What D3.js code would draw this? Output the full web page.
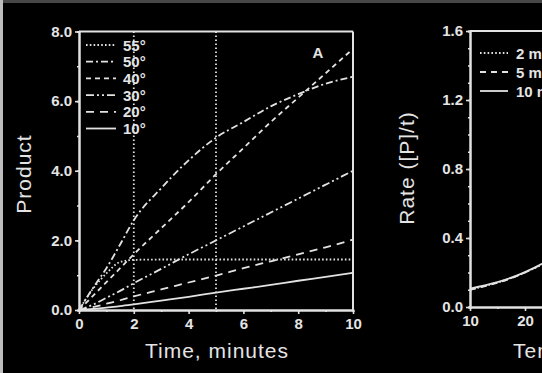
<!DOCTYPE html>
<html>
<head>
<meta charset="utf-8">
<script src="https://cdn.jsdelivr.net/npm/d3@7"></script>
<style>
  html, body { margin: 0; padding: 0; background: #000; }
  svg { display: block; }
  text { font-family: "Liberation Sans", Arial, sans-serif; fill: #e4e4e4; }
</style>
</head>
<body>
<div id="chart"></div>
<script>
// product vs time, one array per temperature
const times = [0, 0.5, 1, 1.5, 2, 3, 4, 5, 6, 7, 8, 9, 10];
const prod55 = [0, 0.6, 1.05, 1.38, 1.44, 1.45, 1.45, 1.45, 1.45, 1.45, 1.45, 1.45, 1.45];
const prod50 = [0, 0.62, 1.2, 1.88, 2.58, 3.5, 4.3, 4.95, 5.4, 5.85, 6.2, 6.5, 6.7];
const prod40 = [0, 0.4, 0.8, 1.2, 1.6, 2.35, 3.1, 3.9, 4.65, 5.4, 6.1, 6.8, 7.5];
const prod30 = [0, 0.15, 0.35, 0.55, 0.77, 1.18, 1.6, 2.0, 2.4, 2.8, 3.2, 3.6, 4.0];
const prod20 = [0, 0.08, 0.18, 0.28, 0.39, 0.59, 0.79, 0.99, 1.2, 1.4, 1.6, 1.8, 2.02];
const prod10 = [0, 0.03, 0.07, 0.11, 0.16, 0.27, 0.38, 0.5, 0.61, 0.72, 0.84, 0.95, 1.07];
const tempLabels = ["55°", "50°", "40°", "30°", "20°", "10°"];

// rate vs temperature
const temps = [10, 20, 30, 40, 50, 55];
const rate2 = [0.1, 0.2, 0.39, 0.8, 1.3, 0.72];
const rate5 = [0.1, 0.2, 0.4, 0.78, 0.99, 0.29];
const rate10 = [0.107, 0.202, 0.4, 0.75, 0.67, 0.145];
const rateLabels = ["2 min", "5 min", "10 min"];

const timeTicks = [0, 2, 4, 6, 8, 10];
const productTicks = [0, 2, 4, 6, 8];
const tempTicks = [10, 20, 30, 40, 50, 60];
const rateTicks = [0, 0.4, 0.8, 1.2, 1.6];
const markerTimes = [2, 5];

const W = 542, H = 373;
const ink = "#e2e2e2";

const svg = d3.select("#chart").append("svg")
	.attr("width", W)
	.attr("height", H);

/* scan border of the original figure */
svg.append("rect").attr("width", W).attr("height", H).attr("fill", "#000");
svg.append("rect").attr("width", W).attr("height", 3).attr("fill", "#474747");
svg.append("rect").attr("width", 3).attr("height", H).attr("fill", "#bdbdbd");

const x = d3.scaleLinear().domain([0, 10]).range([79, 353]);
const y = d3.scaleLinear().domain([0, 8]).range([310, 31.5]);
const xr = d3.scaleLinear().domain([10, 60]).range([470, 745]);
const yr = d3.scaleLinear().domain([0, 1.6]).range([307, 31]);

function styleAxis(g) {
	g.select(".domain").attr("stroke", ink).attr("stroke-width", 2);
	g.selectAll(".tick line").attr("stroke", ink).attr("stroke-width", 1.6);
	g.selectAll(".tick text")
		.attr("fill", ink)
		.style("font-size", "15px")
		.style("font-weight", "bold");
}

function drawAxes(xs, ys, xTicks, yTicks, xMinor, yMinor, xFmt, yFmt) {
	svg.append("g").attr("transform", `translate(0,${ys.range()[0]})`)
		.call(d3.axisBottom(xs).tickValues(xMinor).tickSize(2).tickFormat(""))
		.call(styleAxis);
	svg.append("g").attr("transform", `translate(${xs.range()[0]},0)`)
		.call(d3.axisLeft(ys).tickValues(yMinor).tickSize(2).tickFormat(""))
		.call(styleAxis);
	svg.append("g").attr("transform", `translate(0,${ys.range()[0]})`)
		.call(d3.axisBottom(xs).tickValues(xTicks).tickSize(4).tickSizeOuter(0).tickPadding(4).tickFormat(xFmt))
		.call(styleAxis);
	svg.append("g").attr("transform", `translate(${xs.range()[0]},0)`)
		.call(d3.axisLeft(ys).tickValues(yTicks).tickSize(4).tickSizeOuter(0).tickPadding(3).tickFormat(yFmt))
		.call(styleAxis);
	/* frame: top and right edges */
	const top = ys.range()[1];
	svg.append("line")
		.attr("x1", xs.range()[0]).attr("x2", xs.range()[1])
		.attr("y1", top).attr("y2", top)
		.attr("stroke", ink).attr("stroke-width", 2);
	svg.append("line")
		.attr("x1", xs.range()[1]).attr("x2", xs.range()[1])
		.attr("y1", top).attr("y2", ys.range()[0])
		.attr("stroke", ink).attr("stroke-width", 2);
}

/* ---------- panel A: product vs time ---------- */
drawAxes(x, y, timeTicks, productTicks, d3.range(0, 11, 1), d3.range(0, 9, 1),
	d3.format("d"), d3.format(".1f"));

// dotted markers at 2 and 5 minutes
svg.selectAll(".marker")
	.data(markerTimes)
	.enter().append("line")
		.attr("x1", d => x(d)).attr("x2", d => x(d))
		.attr("y1", y(8)).attr("y2", y(0))
		.attr("stroke", ink).attr("stroke-width", 1.8)
		.attr("stroke-dasharray", "1.5,2.5");

const prodSeries = [prod55, prod50, prod40, prod30, prod20, prod10];
const dashes = ["1.6,2.2", "7,3,2,3", "5,4", "8,3,2,3,2,3", "8,6", null];

const line = d3.line()
	.x((d, i) => x(times[i]))
	.y(d => y(d))
	.curve(d3.curveMonotoneX);

svg.selectAll(".prod")
	.data(prodSeries)
	.enter().append("path")
		.attr("d", line)
		.attr("fill", "none")
		.attr("stroke", ink)
		.attr("stroke-width", 1.8)
		.attr("stroke-dasharray", (d, i) => dashes[i]);

// legend
const legA = svg.append("g");
tempLabels.forEach((lab, i) => {
	const ly = 45 + i * 16.7;
	legA.append("line")
		.attr("x1", 86).attr("x2", 116)
		.attr("y1", ly).attr("y2", ly)
		.attr("stroke", ink).attr("stroke-width", 1.8)
		.attr("stroke-dasharray", dashes[i]);
	legA.append("text")
		.attr("x", 123).attr("y", ly + 5.5)
		.style("font-size", "15px").style("font-weight", "bold")
		.text(lab);
});

svg.append("text")
	.attr("x", 318).attr("y", 58)
	.attr("text-anchor", "middle")
	.style("font-size", "15px").style("font-weight", "bold")
	.text("A");

svg.append("text")
	.attr("x", 217).attr("y", 358)
	.attr("text-anchor", "middle")
	.style("font-size", "21px")
	.style("letter-spacing", "1px")
	.text("Time, minutes");

svg.append("text")
	.attr("transform", "translate(31,174) rotate(-90)")
	.attr("text-anchor", "middle")
	.style("font-size", "21px")
	.style("letter-spacing", "1px")
	.text("Product");

/* ---------- panel B: rate vs temperature ---------- */
drawAxes(xr, yr, tempTicks, rateTicks, d3.range(10, 61, 5), d3.range(0, 1.61, 0.1),
	d3.format("d"), d3.format(".1f"));

const rateSeries = [rate2, rate5, rate10];
const rateDashes = ["1.6,2.2", "6,5", null];

const rline = d3.line()
	.x((d, i) => xr(temps[i]))
	.y(d => yr(d))
	.curve(d3.curveMonotoneX);

svg.selectAll(".rate")
	.data(rateSeries)
	.enter().append("path")
		.attr("d", rline)
		.attr("fill", "none")
		.attr("stroke", ink)
		.attr("stroke-width", 1.8)
		.attr("stroke-dasharray", (d, i) => rateDashes[i]);

const legB = svg.append("g");
rateLabels.forEach((lab, i) => {
	const ly = 53 + i * 19;
	legB.append("line")
		.attr("x1", 480).attr("x2", 508)
		.attr("y1", ly).attr("y2", ly)
		.attr("stroke", ink).attr("stroke-width", 1.8)
		.attr("stroke-dasharray", rateDashes[i]);
	legB.append("text")
		.attr("x", 516).attr("y", ly + 5.5)
		.style("font-size", "15px").style("font-weight", "bold")
		.text(lab);
});

svg.append("text")
	.attr("x", 513).attr("y", 358)
	.style("font-size", "21px")
	.style("letter-spacing", "1px")
	.text("Temperature, °C");

svg.append("text")
	.attr("transform", "translate(414,168) rotate(-90)")
	.attr("text-anchor", "middle")
	.style("font-size", "21px")
	.style("letter-spacing", "1px")
	.text("Rate ([P]/t)");
</script>
</body>
</html>
